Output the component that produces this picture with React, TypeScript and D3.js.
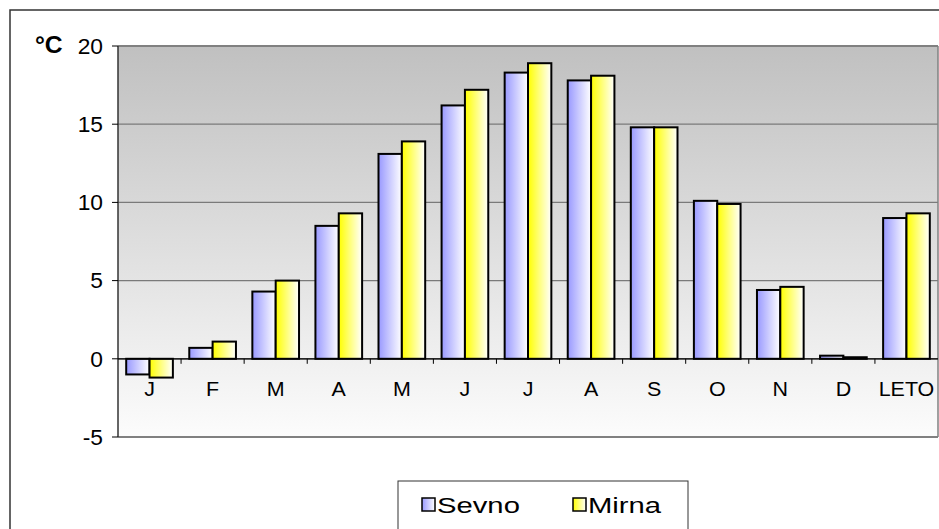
import React from "react";
import * as d3 from "d3";

const categories = ["J", "F", "M", "A", "M", "J", "J", "A", "S", "O", "N", "D", "LETO"];
const sevno = [-1.0, 0.7, 4.3, 8.5, 13.1, 16.2, 18.3, 17.8, 14.8, 10.1, 4.4, 0.2, 9.0];
const mirna = [-1.2, 1.1, 5.0, 9.3, 13.9, 17.2, 18.9, 18.1, 14.8, 9.9, 4.6, 0.1, 9.3];
const seriesNames = ["Sevno", "Mirna"];
const yTicks = [-5, 0, 5, 10, 15, 20];

const W = 939;
const H = 529;
const left = 118;
const right = 938;
const top = 46;
const bottom = 437;

function SText(props: {
  x: number;
  y: number;
  sx: number;
  anchor?: string;
  size: number;
  weight?: string;
  children: React.ReactNode;
}) {
  const { x, y, sx, anchor, size, weight, children } = props;
  return (
    <text
      transform={`translate(${x},${y}) scale(${sx},1)`}
      textAnchor={anchor || "start"}
      fontSize={size}
      fontWeight={weight || "normal"}
      fill="#000"
    >
      {children}
    </text>
  );
}

export default function App() {
  const x = d3
    .scaleBand<number>()
    .domain(categories.map((_, i) => i))
    .range([left, right])
    .paddingInner(0)
    .paddingOuter(0);
  const y = d3.scaleLinear().domain([-5, 20]).range([bottom, top]);
  const bw = x.bandwidth();
  const barW = bw * 0.37;
  const groupOff = (bw - 2 * barW) / 2;
  const font = "Arial, 'Liberation Sans', sans-serif";
  const series = [sevno, mirna];
  const fills = ["url(#gSev)", "url(#gMir)"];

  return (
    <svg
      width={W}
      height={H}
      style={{ position: "absolute", left: 0, top: 0, background: "#fff" }}
      fontFamily={font}
    >
      <defs>
        <linearGradient id="bg" x1="0" y1="0" x2="0" y2="1">
          <stop offset="0" stopColor="#c0c0c0" />
          <stop offset="1" stopColor="#fcfcfc" />
        </linearGradient>
        <linearGradient id="gSev" x1="0" y1="0" x2="1" y2="0">
          <stop offset="0" stopColor="#9999ff" />
          <stop offset="1" stopColor="#ffffff" />
        </linearGradient>
        <linearGradient id="gMir" x1="0" y1="0" x2="1" y2="0">
          <stop offset="0" stopColor="#ffff00" />
          <stop offset="1" stopColor="#ffffff" />
        </linearGradient>
      </defs>

      {/* outer frame */}
      <rect x={10} y={10} width={960} height={560} fill="none" stroke="#333" strokeWidth={1.5} />

      {/* plot background */}
      <rect x={left} y={top} width={right - left} height={bottom - top} fill="url(#bg)" />

      {/* gridlines */}
      {yTicks.map((t) => (
        <line
          key={"g" + t}
          x1={left}
          x2={right}
          y1={y(t)}
          y2={y(t)}
          stroke={t === 20 || t === -5 ? "#808080" : "#7a7a7a"}
          strokeWidth={t === 20 || t === -5 ? 2 : 1.2}
        />
      ))}
      <line x1={right} x2={right} y1={top} y2={bottom} stroke="#808080" strokeWidth={1.5} />

      {/* bars */}
      {series.map((vals, s) =>
        vals.map((v, i) => {
          const x0 = (x(i) as number) + groupOff + s * barW;
          const y0 = Math.min(y(v), y(0));
          const h = Math.abs(y(v) - y(0));
          return (
            <rect
              key={s + "-" + i}
              x={x0}
              y={y0}
              width={barW}
              height={h}
              fill={fills[s]}
              stroke="#000"
              strokeWidth={2}
            />
          );
        })
      )}

      {/* y axis */}
      <line x1={left} x2={left} y1={top} y2={bottom} stroke="#333" strokeWidth={1.5} />
      {yTicks.map((t) => (
        <g key={"y" + t}>
          <line x1={left - 6} x2={left} y1={y(t)} y2={y(t)} stroke="#000" strokeWidth={1} />
          <SText x={103} y={y(t) + 7.8} sx={1.06} anchor="end" size={21.5}>
            {t}
          </SText>
        </g>
      ))}

      {/* x axis at 0 */}
      <line x1={left} x2={right} y1={y(0)} y2={y(0)} stroke="#000" strokeWidth={1.2} />
      {categories.map((c, i) =>
        i > 0 ? (
          <line
            key={"t" + i}
            x1={x(i) as number}
            x2={x(i) as number}
            y1={y(0)}
            y2={y(0) + 5}
            stroke="#000"
            strokeWidth={1}
          />
        ) : null
      )}
      {categories.map((c, i) => (
        <SText key={"c" + i} x={(x(i) as number) + bw / 2} y={396} sx={1.1} anchor="middle" size={19.5}>
          {c}
        </SText>
      ))}

      {/* unit label */}
      <SText x={35} y={53} sx={1.05} size={23.5} weight="bold">
        °C
      </SText>

      {/* legend */}
      <rect x={398} y={481} width={290} height={70} fill="#fff" stroke="#333" strokeWidth={1} />
      {seriesNames.map((n, i) => {
        const lx = i === 0 ? 422 : 573;
        return (
          <g key={"l" + i}>
            <rect x={lx} y={498} width={13} height={13} fill={fills[i]} stroke="#000" strokeWidth={1.5} />
            <SText x={lx + 15} y={512.5} sx={1.3} size={22.5}>
              {n}
            </SText>
          </g>
        );
      })}
    </svg>
  );
}
